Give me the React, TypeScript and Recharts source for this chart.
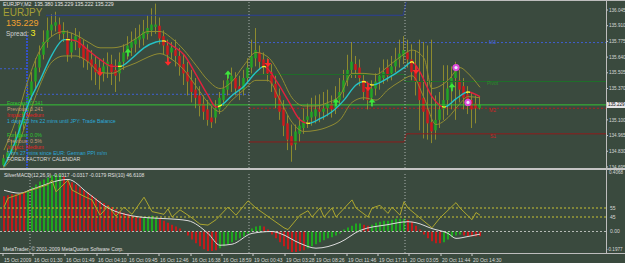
import React from "react";
import {
  ComposedChart,
  Bar,
  Line,
  Scatter,
  XAxis,
  YAxis,
  ReferenceLine,
  Cell,
} from "recharts";

const BG = "#3a4a3e";
const FONT = "'Liberation Sans', Arial, sans-serif";

// EURJPY bars, oldest first
const opens = [
  134.71, 134.77, 134.82, 134.88, 134.94, 135.06, 135.17, 135.31, 135.43, 135.55,
  135.66, 135.77, 135.87, 135.91, 135.92, 135.84, 135.8, 135.68, 135.77, 135.8,
  135.74, 135.7, 135.62, 135.58, 135.55, 135.5, 135.56, 135.58, 135.53, 135.5,
  135.6, 135.68, 135.72, 135.75, 135.79, 135.8, 135.84, 135.87, 135.9, 135.91,
  135.82, 135.74, 135.68, 135.7, 135.65, 135.58, 135.51, 135.44, 135.36, 135.31,
  135.24, 135.19, 135.12, 135.12, 135.19, 135.27, 135.36, 135.43, 135.46, 135.39,
  135.36, 135.46, 135.55, 135.63, 135.68, 135.62, 135.56, 135.51, 135.41, 135.31,
  135.19, 135.07, 134.96, 134.89, 134.98, 135.03, 135.1, 135.12, 135.13, 135.19,
  135.17, 135.2, 135.24, 135.2, 135.27, 135.34, 135.44, 135.53, 135.58, 135.55,
  135.44, 135.36, 135.29, 135.37, 135.43, 135.46, 135.55, 135.5, 135.56, 135.62,
  135.65, 135.68, 135.62, 135.53, 135.43, 135.29, 135.19, 135.08, 135.01, 135.1,
  135.19, 135.27, 135.37, 135.46, 135.44, 135.39, 135.32, 135.27, 135.24, 135.2,
];
const closes = [
  134.77, 134.82, 134.88, 134.94, 135.06, 135.17, 135.31, 135.43, 135.55, 135.66,
  135.77, 135.87, 135.92, 135.94, 135.84, 135.87, 135.66, 135.77, 135.82, 135.72,
  135.62, 135.6, 135.56, 135.51, 135.49, 135.56, 135.6, 135.51, 135.48, 135.6,
  135.68, 135.74, 135.77, 135.8, 135.82, 135.86, 135.89, 135.92, 135.92, 135.8,
  135.74, 135.66, 135.72, 135.65, 135.56, 135.5, 135.43, 135.34, 135.29, 135.22,
  135.17, 135.1, 135.08, 135.2, 135.29, 135.37, 135.44, 135.48, 135.37, 135.36,
  135.46, 135.55, 135.65, 135.7, 135.6, 135.56, 135.5, 135.41, 135.29, 135.17,
  135.05, 134.93, 134.88, 135.0, 135.05, 135.1, 135.13, 135.17, 135.19, 135.17,
  135.2, 135.24, 135.19, 135.27, 135.34, 135.44, 135.53, 135.6, 135.53, 135.46,
  135.34, 135.27, 135.37, 135.43, 135.48, 135.51, 135.48, 135.56, 135.62, 135.67,
  135.7, 135.62, 135.51, 135.43, 135.27, 135.17, 135.07, 135.0, 135.1, 135.19,
  135.27, 135.37, 135.46, 135.53, 135.36, 135.29, 135.22, 135.19, 135.2, 135.229,
];
const highs = [
  134.8, 134.86, 134.93, 135.0, 135.1, 135.23, 135.4, 135.51, 135.63, 135.74,
  135.87, 135.98, 136.01, 136.03, 135.98, 135.94, 135.87, 135.85, 135.89, 135.86,
  135.79, 135.75, 135.7, 135.65, 135.62, 135.63, 135.68, 135.66, 135.62, 135.68,
  135.75, 135.82, 135.86, 135.89, 135.92, 135.96, 136.0, 136.06, 136.1, 135.98,
  135.87, 135.79, 135.77, 135.79, 135.72, 135.66, 135.6, 135.53, 135.46, 135.39,
  135.31, 135.27, 135.22, 135.27, 135.34, 135.44, 135.51, 135.55, 135.51, 135.48,
  135.53, 135.63, 135.79, 135.89, 135.74, 135.68, 135.63, 135.58, 135.48, 135.37,
  135.27, 135.14, 135.06, 135.06, 135.12, 135.2, 135.24, 135.29, 135.31, 135.32,
  135.34, 135.36, 135.31, 135.39, 135.46, 135.53, 135.66, 135.77, 135.65, 135.62,
  135.5, 135.43, 135.44, 135.5, 135.55, 135.62, 135.62, 135.65, 135.72, 135.79,
  135.82, 135.79, 135.75, 135.7, 135.79, 135.77, 135.74, 135.79, 135.31, 135.34,
  135.57, 135.57, 135.56, 135.6, 135.53, 135.46, 135.39, 135.34, 135.31, 135.3,
];
const lows = [
  134.69, 134.74, 134.8, 134.84, 134.91, 135.01, 135.12, 135.27, 135.37, 135.51,
  135.62, 135.72, 135.82, 135.86, 135.79, 135.77, 135.6, 135.63, 135.7, 135.63,
  135.55, 135.53, 135.44, 135.4, 135.36, 135.43, 135.46, 135.4, 135.34, 135.43,
  135.53, 135.62, 135.65, 135.68, 135.72, 135.74, 135.79, 135.82, 135.84, 135.75,
  135.66, 135.6, 135.62, 135.56, 135.48, 135.4, 135.31, 135.25, 135.2, 135.13,
  135.1, 135.05, 135.03, 135.07, 135.15, 135.22, 135.31, 135.34, 135.31, 135.27,
  135.31, 135.41, 135.5, 135.56, 135.53, 135.49, 135.43, 135.34, 135.2, 135.1,
  134.96, 134.84, 134.74, 134.84, 134.91, 134.98, 135.03, 135.05, 135.07, 135.08,
  135.1, 135.13, 135.12, 135.15, 135.22, 135.29, 135.39, 135.46, 135.46, 135.39,
  135.27, 135.19, 135.22, 135.31, 135.36, 135.41, 135.43, 135.44, 135.51, 135.55,
  135.58, 135.55, 135.44, 135.31, 135.01, 134.94, 134.93, 134.9, 134.93, 135.03,
  135.1, 135.14, 135.19, 135.1, 135.25, 135.19, 135.15, 135.03, 135.07, 135.19,
];

// envelope + middle line, [bar, price]
const upperBand = [
  [0, 134.84], [3, 135.1], [6, 135.44], [9, 135.7], [12, 135.82], [15, 135.86],
  [18, 135.83], [21, 135.77], [24, 135.72], [27, 135.72], [30, 135.74], [33, 135.8],
  [36, 135.86], [39, 135.86], [42, 135.8], [45, 135.7], [48, 135.57], [51, 135.44],
  [54, 135.37], [57, 135.43], [60, 135.57], [63, 135.68], [66, 135.64], [69, 135.49],
  [72, 135.29], [75, 135.22], [78, 135.22], [81, 135.25], [84, 135.31], [87, 135.5],
  [90, 135.5], [93, 135.49], [96, 135.56], [99, 135.64], [102, 135.7], [105, 135.63],
  [107, 135.37], [111, 135.44], [114, 135.55], [116, 135.5], [119, 135.38],
];
const lowerBand = [
  [0, 134.69], [3, 134.84], [6, 135.12], [9, 135.4], [12, 135.6], [15, 135.65],
  [18, 135.65], [21, 135.6], [24, 135.51], [27, 135.5], [30, 135.55], [33, 135.59],
  [36, 135.64], [39, 135.67], [42, 135.62], [45, 135.53], [48, 135.39], [51, 135.25],
  [54, 135.17], [57, 135.27], [60, 135.36], [63, 135.44], [66, 135.44], [69, 135.27],
  [72, 135.08], [75, 135.0], [78, 135.01], [81, 135.04], [84, 135.1], [87, 135.25],
  [90, 135.29], [93, 135.27], [96, 135.36], [99, 135.43], [102, 135.48], [105, 135.29],
  [108, 135.06], [111, 135.12], [114, 135.24], [116, 135.3], [119, 135.29],
];
const midLine = [
  [0, 134.7], [3, 134.93], [6, 135.23], [9, 135.44], [12, 135.66], [15, 135.79],
  [16, 135.79], [18, 135.78], [21, 135.7], [24, 135.62], [27, 135.56], [29, 135.56],
  [32, 135.63], [35, 135.72], [38, 135.77], [40, 135.78], [42, 135.74], [45, 135.66],
  [48, 135.49], [51, 135.31], [53, 135.21], [54, 135.22], [57, 135.31], [60, 135.39],
  [63, 135.51], [65, 135.56], [68, 135.44], [71, 135.27], [74, 135.1], [76, 135.07],
  [79, 135.11], [82, 135.17], [85, 135.27], [88, 135.4], [90, 135.43], [92, 135.4],
  [95, 135.44], [97, 135.48], [100, 135.55], [102, 135.6], [104, 135.51], [107, 135.3],
  [110, 135.21], [113, 135.28], [116, 135.34], [119, 135.3],
];
// bars where the middle line changes direction (starts rising)
const midTurns = [16, 29, 40, 54, 65, 76, 90, 92, 102, 110, 116];

const buySignals = [[31, 135.68], [56, 135.49], [83, 135.25], [92, 135.25], [112, 135.38]];
const sellSignals = [[24, 135.51], [41, 135.6], [66, 135.59], [91, 135.38], [103, 135.53], [116, 135.25]];
const alertCircles = [[113, 135.55], [116, 135.25]];

const priceTicks = [136.045, 135.91, 135.775, 135.64, 135.505, 135.37, 135.1, 134.965, 134.83, 134.695];
const lastPrice = 135.229;

// pivot / session lines: [bar, price] points
const levels = [
  { pts: [[10.5, 136.0], [99.8, 136.0], [100.6, 136.12]], color: "#2b3f96", dash: "" },
  { pts: [[-1, 135.54], [5.75, 135.54]], color: "#3f5fd0", dash: "2 2" },
  { pts: [[6, 135.32], [61.25, 135.32]], color: "#3f5fd0", dash: "2 2" },
  { pts: [[61.25, 135.765], [150.5, 135.765]], color: "#3f5fd0", dash: "2 2" },
  { pts: [[61.25, 135.49], [100.25, 135.49], [100.25, 135.43], [150.5, 135.43]], color: "#1f6e2a", dash: "" },
  { pts: [[61.25, 135.2], [150.5, 135.2]], color: "#b42020", dash: "2 2" },
  { pts: [[61.25, 134.91], [100.0, 134.91], [100.6, 134.98], [150.5, 134.98]], color: "#8e1c1c", dash: "" },
];

// SilverMACD histogram
const macdHist = [
  0.241, 0.248, 0.255, 0.255, 0.262, 0.268, 0.282, 0.302, 0.322, 0.342,
  0.356, 0.369, 0.383, 0.389, 0.389, 0.376, 0.349, 0.336, 0.322, 0.302,
  0.282, 0.268, 0.248, 0.228, 0.208, 0.195, 0.181, 0.168, 0.154, 0.141,
  0.128, 0.121, 0.107, 0.101, 0.094, 0.094, 0.101, 0.107, 0.101, 0.087,
  0.074, 0.06, 0.047, 0.034, 0.02, 0.0, -0.027, -0.054, -0.081, -0.101,
  -0.121, -0.134, -0.134, -0.128, -0.114, -0.101, -0.087, -0.074, -0.06, -0.047,
  -0.034, -0.013, 0.02, 0.034, 0.04, 0.034, 0.013, -0.02, -0.047, -0.074,
  -0.101, -0.121, -0.141, -0.141, -0.134, -0.128, -0.114, -0.101, -0.087, -0.074,
  -0.06, -0.047, -0.04, -0.027, -0.013, 0.013, 0.027, 0.04, 0.054, 0.054,
  0.047, 0.04, 0.047, 0.06, 0.067, 0.074, 0.074, 0.081, 0.087, 0.087,
  0.087, 0.081, 0.067, 0.04, 0.013, -0.02, -0.047, -0.067, -0.081, -0.081,
  -0.074, -0.054, -0.04, -0.027, -0.02, -0.027, -0.034, -0.034, -0.034, -0.032,
];
const histRuns: [string, number][] = [
  ["R", 6], ["G", 9], ["R", 20], ["G", 4], ["R", 15], ["G", 11], ["R", 11],
  ["G", 14], ["R", 2], ["G", 9], ["R", 9], ["G", 5], ["R", 5],
];
const macdSignal = [
  [0, 0.282], [4, 0.262], [7, 0.289], [16, 0.356], [21, 0.262], [26, 0.161], [32, 0.107],
  [36, 0.094], [41, 0.087], [46, 0.074], [51, -0.013], [54, -0.094], [57, -0.087],
  [62, -0.013], [67, 0.0], [69, -0.013], [74, -0.081], [78, -0.114], [84, -0.074],
  [89, 0.007], [96, 0.047], [101, 0.067], [103, 0.06], [107, 0.02], [111, -0.013],
  [113, -0.047], [116, -0.034], [119, -0.018],
];
const rsi = [
  [0, 56], [1, 66], [5, 72], [7, 75], [11, 81], [12, 86], [13, 73], [16, 86], [17, 75],
  [20, 68], [22, 64], [24, 47], [26, 57], [28, 46], [30, 56], [32, 48], [35, 67], [37, 51],
  [40, 48], [41, 54], [42, 45], [44, 53], [47, 44], [49, 37], [51, 36], [53, 42], [56, 56],
  [58, 47], [61, 63], [63, 55], [70, 33], [71, 31], [74, 47], [76, 52], [77, 45], [79, 55],
  [80, 45], [82, 55], [83, 45], [87, 64], [88, 55], [91, 45], [92, 55], [94, 58], [96, 49],
  [97, 56], [99, 47], [100, 62], [101, 55], [107, 33], [109, 44], [113, 61], [114, 55],
  [117, 42], [118, 50], [119, 47],
];
const rsiLevels = [55, 45];

const timeTicks = [-0.25, 7.25, 15.25, 23.25, 31, 38.75, 46.75, 54.5, 62.25, 70.25, 77.75, 85.75, 93.5, 101.25, 109.25, 117];
const timeLabels = [
  "15 Oct 2009", "16 Oct 01:30", "16 Oct 01:49", "16 Oct 04:10", "16 Oct 09:45", "16 Oct 12:46",
  "16 Oct 16:38", "16 Oct 18:59", "19 Oct 00:43", "19 Oct 03:28", "19 Oct 08:26", "19 Oct 11:46",
  "19 Oct 17:11", "20 Oct 03:05", "20 Oct 11:44", "20 Oct 14:30",
];

const calendar = [
  { t: "Forecast: 0.341", c: "#2fc42f", y: 101 },
  { t: "Previous: 0.241", c: "#c49a7a", y: 107 },
  { t: "Impact: Medium", c: "#e01e1e", y: 113 },
  { t: "1 days 23 hrs 22 mins until JPY: Trade Balance", c: "#2aa8d8", y: 119 },
  { t: "Forecast: 0.0%", c: "#2fc42f", y: 133 },
  { t: "Previous: 0.5%", c: "#c49a7a", y: 139 },
  { t: "Impact: Medium", c: "#e01e1e", y: 145 },
  { t: "7 hrs 27 mins since EUR: German PPI m/m", c: "#2aa8d8", y: 151 },
  { t: "FOREX FACTORY CALENDAR", c: "#d8d8d8", y: 157 },
];

const XDOM: [number, number] = [-1, 150.5];

const toMap = (pairs: number[][]) => new Map(pairs.map(([i, v]) => [i, v]));

const up = toMap(upperBand);
const lo = toMap(lowerBand);
const mid = toMap(midLine);
const mainRows = closes.map((c, i) => ({
  i,
  o: opens[i],
  c,
  hi: highs[i],
  lo: lows[i],
  hl: [lows[i], highs[i]],
  up: up.get(i),
  dn: lo.get(i),
  mid: mid.get(i),
}));

const histCols: string[] = histRuns.flatMap(([c, n]) => Array(n).fill(c));
const sig = toMap(macdSignal);
const rs = toMap(rsi);
const subRows = macdHist.map((h, i) => ({ i, h, col: histCols[i], sig: sig.get(i), rsi: rs.get(i) }));

const pts = (a: number[][]) => a.map(([i, p]) => ({ i, p }));

function midStops() {
  const cu = "#25c2c6", cd = "#e2203c", cy = "#f4f02a";
  const last = closes.length - 1;
  const pct = (i: number) => (i / last) * 100;
  const b = [0, ...midTurns, last];
  const out: { o: number; c: string }[] = [];
  for (let k = 0; k < b.length - 1; k++) {
    const col = k % 2 === 0 ? cu : cd;
    const a = k === 0 ? 0 : pct(b[k]) + 0.5;
    const e = k === b.length - 2 ? 100 : pct(b[k + 1]) - 0.5;
    if (k > 0) out.push({ o: a, c: cy });
    out.push({ o: a, c: col }, { o: e, c: col });
    if (k < b.length - 2) out.push({ o: e, c: cy });
  }
  return out;
}

const Candle = (props: any) => {
  const { x, y, width, height, payload } = props;
  if (x == null || !payload) return null;
  const top = Math.min(y, y + height);
  const h = Math.abs(height);
  const span = payload.hi - payload.lo || 1;
  const bt = top + ((payload.hi - Math.max(payload.o, payload.c)) / span) * h;
  const bb = top + ((payload.hi - Math.min(payload.o, payload.c)) / span) * h;
  const cx = x + width / 2;
  const bull = payload.c >= payload.o;
  return (
    <g>
      <line x1={cx} x2={cx} y1={top} y2={top + h} stroke="#8d8a2e" strokeWidth={1} />
      <rect x={cx - 1.25} y={bt} width={2.5} height={Math.max(1, bb - bt)} fill={bull ? "#23a524" : "#d01a1c"} />
    </g>
  );
};

const BuyArrow = ({ cx, cy }: any) => (
  <g>
    <rect x={cx - 0.8} y={cy - 2} width={1.6} height={6} fill="#3ce83c" />
    <path d={`M${cx - 3.5},${cy} L${cx},${cy - 4} L${cx + 3.5},${cy} Z`} fill="#3ce83c" />
  </g>
);
const SellArrow = ({ cx, cy }: any) => (
  <g>
    <rect x={cx - 0.8} y={cy - 4} width={1.6} height={6} fill="#ff2a2a" />
    <path d={`M${cx - 3.5},${cy} L${cx},${cy + 4} L${cx + 3.5},${cy} Z`} fill="#ff2a2a" />
  </g>
);
const Ring = ({ cx, cy }: any) => (
  <g>
    <circle cx={cx} cy={cy} r={3.6} fill="#e04ad8" />
    <circle cx={cx} cy={cy} r={1.6} fill="#e8e8ff" />
  </g>
);

const TimeTick = (props: any) => {
  const { x, y, payload } = props;
  const k = timeTicks.indexOf(payload.value);
  return (
    <text x={x + 1} y={y + 4} fontSize={5} fill="#d8d8d8" fontFamily={FONT} textAnchor="start">
      {timeLabels[k]}
    </text>
  );
};

const abs = (left: number, top: number, size: number, color: string, extra: any = {}) => ({
  position: "absolute" as const,
  left,
  top,
  fontSize: size,
  color,
  lineHeight: 1,
  whiteSpace: "nowrap" as const,
  ...extra,
});

export default function App() {
  const stops = midStops();
  return (
    <div style={{ position: "fixed", left: 0, top: 0, width: 625, height: 263, background: BG, overflow: "hidden", fontFamily: FONT }}>
      <div style={{ position: "absolute", left: 0, top: 0 }}>
        <ComposedChart width={625} height={170} data={mainRows} margin={{ top: 2, right: 0, bottom: 2, left: 0 }}>
          <defs>
            <linearGradient id="midGrad" x1="0" y1="0" x2="1" y2="0">
              {stops.map((s, k) => (
                <stop key={k} offset={`${s.o}%`} stopColor={s.c} />
              ))}
            </linearGradient>
          </defs>
          <XAxis type="number" dataKey="i" domain={XDOM} hide allowDataOverflow />
          <YAxis
            orientation="right"
            width={19}
            domain={[134.686, 136.114]}
            allowDataOverflow
            ticks={priceTicks}
            tickFormatter={(v: number) => v.toFixed(3)}
            tick={{ fontSize: 4.6, fill: "#d8d8d8", fontFamily: FONT }}
            tickSize={2}
            tickMargin={1}
            axisLine={false}
            tickLine={{ stroke: "#cfcfcf" }}
          />
          {levels.flatMap((lv, n) =>
            lv.pts.slice(1).map((p, k) => (
              <ReferenceLine
                key={`lv${n}-${k}`}
                segment={[{ x: lv.pts[k][0], y: lv.pts[k][1] }, { x: p[0], y: p[1] }]}
                stroke={lv.color}
                strokeDasharray={lv.dash}
                ifOverflow="hidden"
              />
            ))
          )}
          <ReferenceLine y={lastPrice} stroke="#36c236" />
          <ReferenceLine segment={[{ x: 5.75, y: 135.83 }, { x: 5.75, y: 134.686 }]} stroke="#3350c8" strokeWidth={2} strokeDasharray="2 1" ifOverflow="hidden" />
          <ReferenceLine x={61.25} stroke="#a9b0ad" strokeDasharray="1 2" />
          <ReferenceLine x={100.25} stroke="#a9b0ad" strokeDasharray="1 2" />
          <Line dataKey="up" stroke="#918c32" strokeWidth={1} dot={false} connectNulls type="monotone" isAnimationActive={false} />
          <Line dataKey="dn" stroke="#918c32" strokeWidth={1} dot={false} connectNulls type="monotone" isAnimationActive={false} />
          <Bar dataKey="hl" barSize={3} shape={Candle} isAnimationActive={false} />
          <Line dataKey="mid" stroke="url(#midGrad)" strokeWidth={1.4} dot={false} connectNulls type="monotone" isAnimationActive={false} />
          <Scatter data={pts(buySignals)} dataKey="p" shape={BuyArrow} isAnimationActive={false} />
          <Scatter data={pts(sellSignals)} dataKey="p" shape={SellArrow} isAnimationActive={false} />
          <Scatter data={pts(alertCircles)} dataKey="p" shape={Ring} isAnimationActive={false} />
        </ComposedChart>
      </div>

      <div style={{ position: "absolute", left: 0, top: 170 }}>
        <ComposedChart width={625} height={93} data={subRows} margin={{ top: 2, right: 19, bottom: 0, left: 0 }}>
          <XAxis
            type="number"
            dataKey="i"
            domain={XDOM}
            allowDataOverflow
            ticks={timeTicks}
            tick={<TimeTick />}
            height={10}
            axisLine={false}
            tickLine={{ stroke: "#cfcfcf" }}
            tickSize={3}
            interval={0}
          />
          <YAxis yAxisId="m" domain={[-0.147, 0.4068]} hide allowDataOverflow />
          <YAxis yAxisId="r" domain={[5, 95]} hide allowDataOverflow />
          <ReferenceLine x={6.5} yAxisId="m" stroke="#a9b0ad" strokeDasharray="1 2" />
          <ReferenceLine x={61.25} yAxisId="m" stroke="#a9b0ad" strokeDasharray="1 2" />
          <ReferenceLine x={100.25} yAxisId="m" stroke="#a9b0ad" strokeDasharray="1 2" />
          {rsiLevels.map((v) => (
            <ReferenceLine
              key={v}
              y={v}
              yAxisId="r"
              stroke="#c8c232"
              strokeDasharray="2 2"
              label={{ value: String(v), position: "right", fontSize: 5, fill: "#d8d8d8", offset: 4 }}
            />
          ))}
          <ReferenceLine
            y={0}
            yAxisId="m"
            stroke="#b8bcb8"
            strokeDasharray="2 2"
            label={{ value: "0.00", position: "right", fontSize: 5, fill: "#d8d8d8", offset: 4 }}
          />
          <Bar dataKey="h" yAxisId="m" barSize={2} isAnimationActive={false}>
            {subRows.map((r) => (
              <Cell key={r.i} fill={r.col === "G" ? "#1ea81e" : "#c41a1a"} />
            ))}
          </Bar>
          <Line dataKey="sig" yAxisId="m" stroke="#dcdcdc" strokeWidth={1} dot={false} connectNulls type="monotone" isAnimationActive={false} />
          <Line dataKey="rsi" yAxisId="r" stroke="#aca62e" strokeWidth={1} dot={false} connectNulls type="linear" isAnimationActive={false} />
        </ComposedChart>
      </div>

      {/* frame */}
      <div style={{ position: "absolute", left: 0, top: 0, width: 625, height: 1, background: "#bdbdbd" }} />
      <div style={{ position: "absolute", left: 0, top: 168, width: 625, height: 2, background: "#c4c4c4" }} />
      <div style={{ position: "absolute", left: 0, top: 253, width: 625, height: 1, background: "#bdbdbd" }} />
      <div style={{ position: "absolute", left: 606, top: 0, width: 1, height: 254, background: "#bdbdbd" }} />

      {/* price axis extras */}
      <div style={abs(607, 102, 4.6, "#101010", { background: "#e6e6e6", padding: "0 1px", height: 6, lineHeight: "6px" })}>135.229</div>
      <div style={abs(609, 171, 4.6, "#d8d8d8")}>0.4068</div>
      <div style={abs(607, 248, 4.6, "#d8d8d8")}>-0.1977</div>

      {/* header */}
      <div style={abs(3, 2, 5.2, "#e4e4e4")}>EURJPY,M2&nbsp;&nbsp;135.380 135.229 135.222 135.229</div>
      <div style={abs(3, 8, 10, "#a49f36")}>EURJPY</div>
      <div style={abs(6, 19, 9, "#f0a030")}>135.229</div>
      <div style={abs(6, 29, 6.5, "#d0d0d0")}>
        Spread: <span style={{ color: "#f4ee22", fontSize: 9 }}>3</span>
      </div>

      {calendar.map((r, k) => (
        <div key={k} style={abs(7, r.y, 5.2, r.c)}>{r.t}</div>
      ))}

      {/* pivot labels */}
      <div style={abs(489, 40, 5, "#4a66d8")}>M3</div>
      <div style={abs(487, 81, 5, "#2a8a2a")}>Pivot</div>
      <div style={abs(489, 108, 5, "#cc2424")}>M2</div>
      <div style={abs(490, 134, 5, "#cc2424")}>S1</div>

      <div style={abs(4, 173, 5, "#e0e0e0")}>SilverMACD(12,26,9) -0.0317 -0.0317 -0.0179 RSI(10) 46.6108</div>
      <div style={abs(3, 247, 5, "#e0e0e0")}>MetaTrader, © 2001-2009 MetaQuotes Software Corp.</div>
    </div>
  );
}
